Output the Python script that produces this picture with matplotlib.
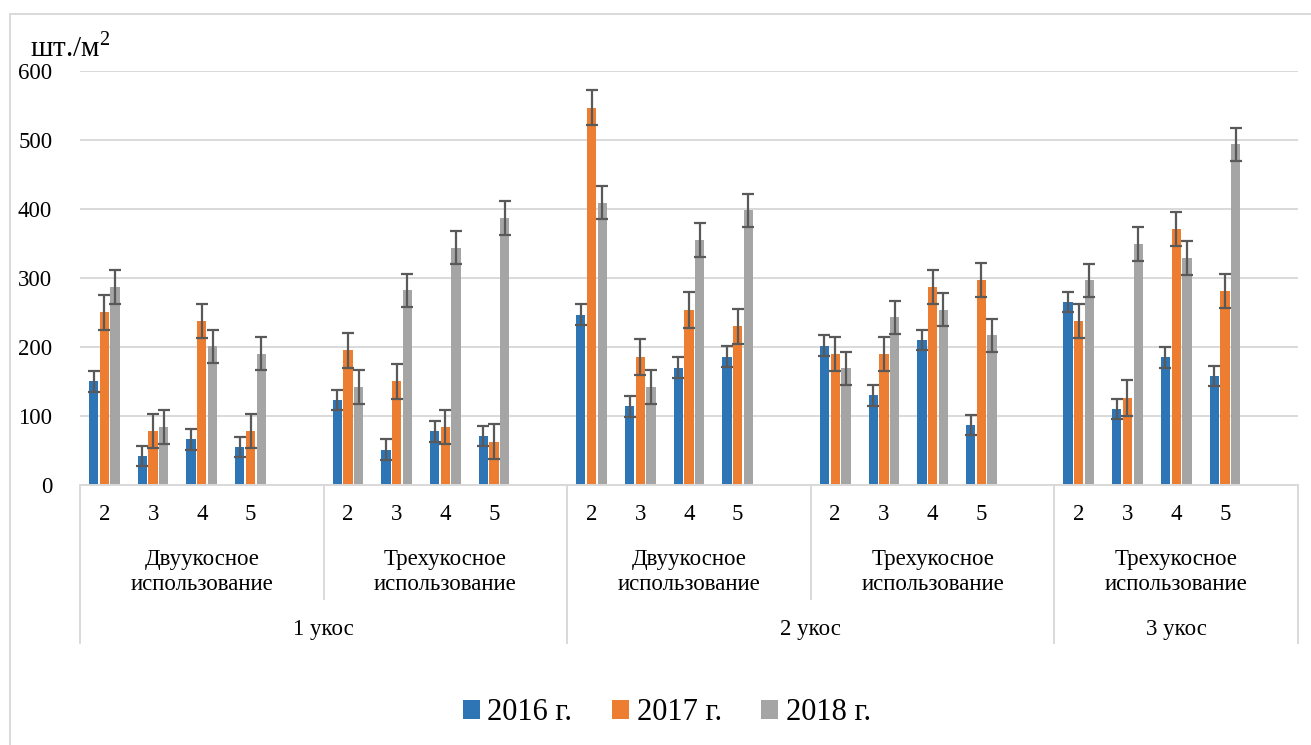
import matplotlib
matplotlib.use('Agg')
import matplotlib.pyplot as plt
import matplotlib.transforms as mtransforms
from matplotlib.patches import Rectangle
import numpy as np

plt.rcParams['font.family'] = ['Liberation Serif', 'DejaVu Serif']
plt.rcParams['mathtext.fontset'] = 'custom'
plt.rcParams['mathtext.rm'] = 'Liberation Serif'

# данные
sub_labels = ['2', '3', '4', '5']
mid_labels = ['Двуукосное\nиспользование', 'Трехукосное\nиспользование',
              'Двуукосное\nиспользование', 'Трехукосное\nиспользование',
              'Трехукосное\nиспользование']
top_labels = ['1 укос', '2 укос', '3 укос']
top_span = [2, 2, 1]  # сколько групп в каждом укосе
series = ['2016 г.', '2017 г.', '2018 г.']

y2016 = [150, 42, 66, 55, 123, 51, 78, 71, 247, 114, 170, 186,
         202, 130, 210, 87, 265, 110, 185, 158]
y2017 = [250, 78, 238, 78, 195, 150, 84, 63, 547, 185, 254, 230,
         190, 190, 287, 297, 238, 126, 371, 281]
y2018 = [287, 84, 201, 190, 142, 282, 344, 387, 409, 142, 355, 398,
         169, 243, 254, 217, 297, 349, 329, 494]
e2016 = [15, 15, 15, 15, 15, 15, 15, 15, 15, 15, 15, 15,
         15, 15, 15, 15, 15, 15, 15, 15]
e2017 = [25, 25, 25, 25, 26, 26, 25, 25, 25, 26, 26, 25,
         25, 25, 25, 25, 25, 26, 25, 25]
e2018 = [24, 24, 24, 24, 25, 24, 24, 24, 24, 25, 25, 24,
         24, 24, 24, 24, 24, 25, 25, 24]

colors = ['#2E75B6', '#ED7D31', '#A5A5A5']
W, H = 1311, 745

fig = plt.figure(figsize=(W / 100, H / 100), dpi=100)
ax = fig.add_axes([80 / W, 1 - 485 / H, (1298 - 80) / W, (485 - 71) / H])

# каждая группа: 4 категории + пустой слот
n_groups = len(mid_labels)
slots = []
for g in range(n_groups):
    for k in range(len(sub_labels)):
        slots.append(g * 5 + k)
slots = np.array(slots)

off = [-0.22, 0, 0.22]
for vals, errs, c, lab, o in zip([y2016, y2017, y2018], [e2016, e2017, e2018],
                                 colors, series, off):
    ax.bar(slots + o, vals, width=0.19, color=c, label=lab, zorder=2)
    ax.errorbar(slots + o, vals, yerr=errs, fmt='none', ecolor='#595959',
                elinewidth=1.6, capsize=4.2, capthick=1.6, zorder=3)

ax.set_xlim(-0.5, n_groups * 5 - 0.5)
ax.set_ylim(0, 600)
ax.set_yticks(range(0, 601, 100))
ax.yaxis.grid(True, color='#D9D9D9', linewidth=1.4, zorder=0)
ax.set_axisbelow(True)
for s in ['left', 'right', 'top']:
    ax.spines[s].set_visible(False)
ax.spines['bottom'].set_color('#D9D9D9')
ax.spines['bottom'].set_linewidth(1.4)
ax.tick_params(axis='y', length=0, labelsize=16.5, pad=20)
ax.set_xticks([])

# многоуровневая ось категорий
tr = mtransforms.blended_transform_factory(ax.transData, fig.transFigure)
def fy(px):
    return 1 - px / H

for i, s in enumerate(slots):
    ax.text(s, fy(515), sub_labels[i % 4], transform=tr, ha='center',
            va='center', fontsize=16.5)
for g in range(n_groups):
    ax.text(g * 5 + 2, fy(572), mid_labels[g], transform=tr, ha='center',
            va='center', fontsize=16.5, linespacing=1.25)

line_kw = dict(color='#D9D9D9', linewidth=1.4, transform=tr, clip_on=False)
start = 0
edges = [-0.5]
for t, span in zip(top_labels, top_span):
    end = start + span * 5
    ax.text((start + end - 1) / 2, fy(630), t, transform=tr, ha='center',
            va='center', fontsize=16.5)
    for g in range(start // 5 + 1, end // 5):
        ax.plot([g * 5 - 0.5] * 2, [fy(486), fy(599)], **line_kw)
    edges.append(end - 0.5)
    start = end
for x in edges:
    ax.plot([x, x], [fy(486), fy(643)], **line_kw)

fig.text(30 / W, fy(56), 'шт./м$^{2}$', fontsize=21, ha='left', va='baseline')

fig.legend(loc='center', bbox_to_anchor=(667 / W, fy(713)), ncol=3,
           frameon=False, fontsize=22, handlelength=0.55, handleheight=0.55,
           handletextpad=0.25, columnspacing=1.3)

fig.patches.append(Rectangle((10 / W, -0.05), 1.1, fy(14) + 0.05,
                             transform=fig.transFigure, fill=False,
                             edgecolor='#D9D9D9', linewidth=1.4))

fig.savefig('out.png', dpi=100)
